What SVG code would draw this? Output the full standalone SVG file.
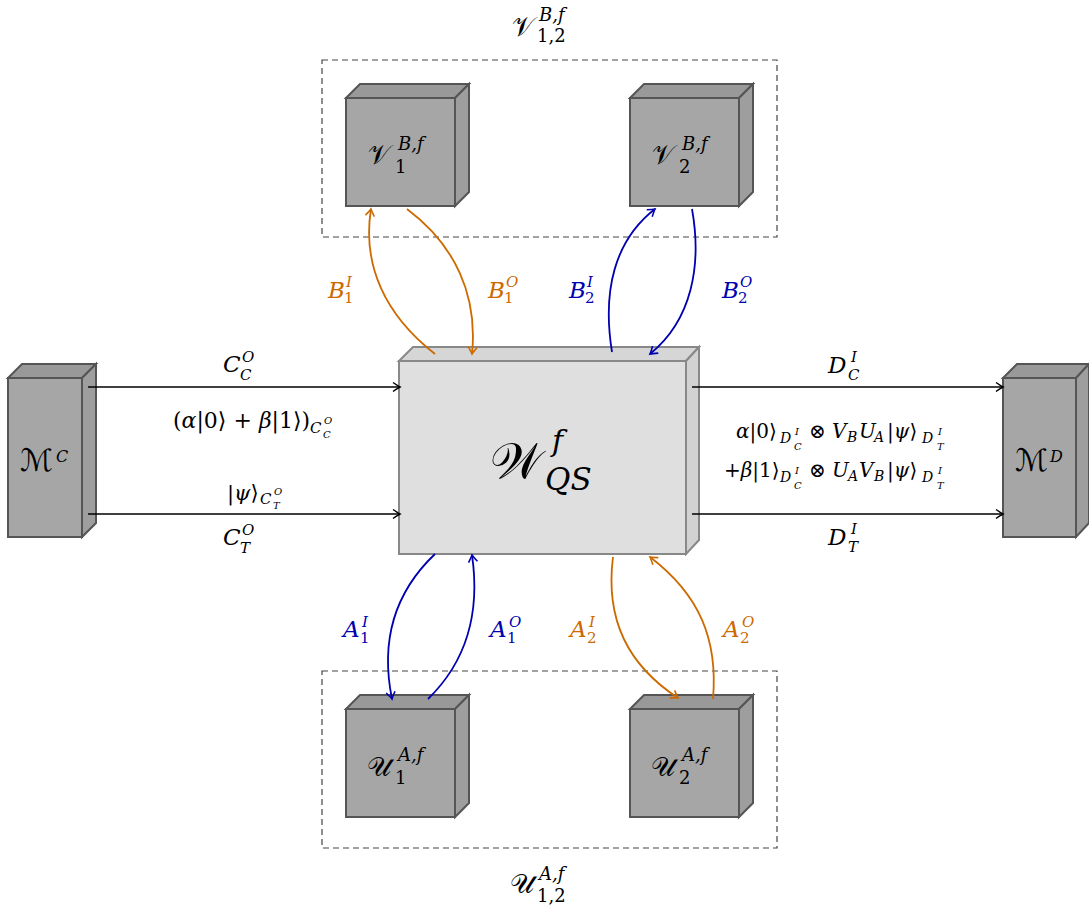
<svg xmlns="http://www.w3.org/2000/svg" width="1089" height="907" viewBox="0 0 1089 907">
<style>
.t{font-family:"DejaVu Serif","Liberation Serif",serif;fill:#000}
.i{font-style:italic}
.cal{font-family:"DejaVu Sans","Noto Sans",serif;fill:#000}
.b{font-size:23px}
.s{font-size:15px}
.xs{font-size:10px}
.m{font-size:14px}
.f{font-size:20px}
.or{fill:#cc6a00}
.bl{fill:#0000b0}
.front{fill:#a6a6a6;stroke:#555;stroke-width:2}
.top{fill:#999;stroke:#555;stroke-width:2}
.side{fill:#9e9e9e;stroke:#555;stroke-width:2}
.wf{fill:#dfdfdf;stroke:#888;stroke-width:2}
.wt{fill:#d6d6d6;stroke:#888;stroke-width:2}
.ws{fill:#d2d2d2;stroke:#888;stroke-width:2}
.dash{fill:none;stroke:#444;stroke-width:1.2;stroke-dasharray:6 4}
.ck{fill:none;stroke:#000;stroke-width:1.6}
.co{fill:none;stroke:#cc6a00;stroke-width:1.8}
.cb{fill:none;stroke:#0000b0;stroke-width:1.8}
.lab{font-size:18px}
</style>
<defs>
<marker id="ak" markerUnits="userSpaceOnUse" markerWidth="12" markerHeight="12" viewBox="-9 -6 12 12" refX="0" refY="0" orient="auto"><path d="M-7,-4.5 Q-2,-1 0,0 Q-2,1 -7,4.5" fill="none" stroke="#000" stroke-width="1.5"/></marker>
<marker id="ao" markerUnits="userSpaceOnUse" markerWidth="12" markerHeight="12" viewBox="-9 -6 12 12" refX="0" refY="0" orient="auto"><path d="M-7,-4.5 Q-2,-1 0,0 Q-2,1 -7,4.5" fill="none" stroke="#cc6a00" stroke-width="1.6"/></marker>
<marker id="ab" markerUnits="userSpaceOnUse" markerWidth="12" markerHeight="12" viewBox="-9 -6 12 12" refX="0" refY="0" orient="auto"><path d="M-7,-4.5 Q-2,-1 0,0 Q-2,1 -7,4.5" fill="none" stroke="#0000b0" stroke-width="1.6"/></marker>
</defs>
<rect width="1089" height="907" fill="#fff"/>

<g id="groupV">
<rect class="dash" x="322" y="60" width="455" height="177"/>
<text class="cal" x="512" y="36" font-size="27">𝒱</text>
<text class="t i lab" x="539" y="21">B,f</text>
<text class="t lab" x="537" y="42">1,2</text>
</g>
<g id="groupU">
<rect class="dash" x="322" y="671" width="455" height="177"/>
<text class="cal" x="510" y="893" font-size="27">𝒰</text>
<text class="t i lab" x="539" y="880">A,f</text>
<text class="t lab" x="537" y="902">1,2</text>
</g>

<g id="V1">
<polygon class="top" points="346,98 360,84 469,84 455,98"/>
<polygon class="side" points="455,98 469,84 469,192 455,206"/>
<rect class="front" x="346" y="98" width="109" height="108"/>
<text class="cal" x="368" y="164" font-size="27">𝒱</text>
<text class="t i lab" x="398" y="150">B,f</text>
<text class="t lab" x="395" y="173">1</text>
</g>
<g id="V2">
<polygon class="top" points="630,98 644,84 753,84 739,98"/>
<polygon class="side" points="739,98 753,84 753,192 739,206"/>
<rect class="front" x="630" y="98" width="109" height="108"/>
<text class="cal" x="652" y="164" font-size="27">𝒱</text>
<text class="t i lab" x="682" y="150">B,f</text>
<text class="t lab" x="679" y="173">2</text>
</g>
<g id="U1">
<polygon class="top" points="346,709 360,695 469,695 455,709"/>
<polygon class="side" points="455,709 469,695 469,803 455,817"/>
<rect class="front" x="346" y="709" width="109" height="108"/>
<text class="cal" x="367" y="776" font-size="27">𝒰</text>
<text class="t i lab" x="398" y="761">A,f</text>
<text class="t lab" x="395" y="784">1</text>
</g>
<g id="U2">
<polygon class="top" points="630,709 644,695 753,695 739,709"/>
<polygon class="side" points="739,709 753,695 753,803 739,817"/>
<rect class="front" x="630" y="709" width="109" height="108"/>
<text class="cal" x="651" y="776" font-size="27">𝒰</text>
<text class="t i lab" x="682" y="761">A,f</text>
<text class="t lab" x="679" y="784">2</text>
</g>
<g id="MC">
<polygon class="top" points="8,378 22,364 96,364 82,378"/>
<polygon class="side" points="82,378 96,364 96,523 82,537"/>
<rect class="front" x="8" y="378" width="74" height="159"/>
<text class="cal" x="20" y="471" font-size="31">ℳ</text>
<text class="t i" x="56" y="462" style="font-size:16px">C</text>
</g>
<g id="MD">
<polygon class="top" points="1003,378 1017,364 1089,364 1076,378"/>
<polygon class="side" points="1076,378 1089,364 1089,523 1076,537"/>
<rect class="front" x="1003" y="378" width="73" height="159"/>
<text class="cal" x="1015" y="471" font-size="31">ℳ</text>
<text class="t i" x="1050" y="462" style="font-size:16px">D</text>
</g>
<g id="W">
<polygon class="wt" points="399,361 413,347 699,347 686,361"/>
<polygon class="ws" points="686,361 699,347 699,540 686,554"/>
<rect class="wf" x="399" y="361" width="287" height="193"/>
<text class="cal" x="490" y="478" font-size="50">𝒲</text>
<text class="t i" x="552" y="451" style="font-size:30px">f</text>
<text class="t i" x="545" y="490" style="font-size:31px">QS</text>
</g>

<g id="connectors">
<line class="ck" x1="88" y1="387" x2="400" y2="387" marker-end="url(#ak)"/>
<line class="ck" x1="88" y1="514" x2="400" y2="514" marker-end="url(#ak)"/>
<line class="ck" x1="692" y1="387" x2="1003" y2="387" marker-end="url(#ak)"/>
<line class="ck" x1="692" y1="514" x2="1003" y2="514" marker-end="url(#ak)"/>
<path class="co" d="M435,354 C385,315 362,265 371,209" marker-end="url(#ao)"/>
<path class="co" d="M407,209 C455,245 478,295 472,354" marker-end="url(#ao)"/>
<path class="cb" d="M612,352 C602,290 615,240 655,209" marker-end="url(#ab)"/>
<path class="cb" d="M692,209 C702,265 692,320 650,354" marker-end="url(#ab)"/>
<path class="cb" d="M435,554 C395,592 380,640 392,699" marker-end="url(#ab)"/>
<path class="cb" d="M428,699 C468,660 480,610 472,555" marker-end="url(#ab)"/>
<path class="co" d="M613,557 C605,620 628,665 678,698" marker-end="url(#ao)"/>
<path class="co" d="M713,699 C718,640 700,595 650,557" marker-end="url(#ao)"/>
</g>

<g id="labels">
<text class="t i b or" x="328" y="298">B</text><text class="t i s or" x="346" y="287">I</text><text class="t s or" x="344" y="303">1</text>
<text class="t i b or" x="488" y="298">B</text><text class="t i s or" x="506" y="287">O</text><text class="t s or" x="504" y="303">1</text>
<text class="t i b bl" x="569" y="298">B</text><text class="t i s bl" x="587" y="287">I</text><text class="t s bl" x="585" y="303">2</text>
<text class="t i b bl" x="722" y="298">B</text><text class="t i s bl" x="740" y="287">O</text><text class="t s bl" x="738" y="303">2</text>

<text class="t i b bl" x="343" y="637">A</text><text class="t i s bl" x="362" y="627">I</text><text class="t s bl" x="360" y="643">1</text>
<text class="t i b bl" x="490" y="637">A</text><text class="t i s bl" x="509" y="627">O</text><text class="t s bl" x="507" y="643">1</text>
<text class="t i b or" x="570" y="637">A</text><text class="t i s or" x="589" y="627">I</text><text class="t s or" x="587" y="643">2</text>
<text class="t i b or" x="723" y="637">A</text><text class="t i s or" x="742" y="627">O</text><text class="t s or" x="740" y="643">2</text>

<text class="t i b" x="223" y="372">C</text><text class="t i s" x="242" y="362">O</text><text class="t i s" x="240" y="380">C</text>
<text class="t" x="173" y="428" style="font-size:22px">(<tspan class="i">α</tspan>|0⟩ + <tspan class="i">β</tspan>|1⟩)</text>
<text class="t i" x="310" y="433" style="font-size:15px">C</text><text class="t i xs" x="324" y="424">O</text><text class="t i xs" x="323" y="438">C</text>
<text class="t" x="227" y="500" style="font-size:21px">|<tspan class="i">ψ</tspan>⟩</text>
<text class="t i" x="260" y="504" style="font-size:15px">C</text><text class="t i xs" x="274" y="495">O</text><text class="t i xs" x="273" y="509">T</text>
<text class="t i b" x="223" y="545">C</text><text class="t i s" x="242" y="535">O</text><text class="t i s" x="240" y="553">T</text>

<text class="t i b" x="828" y="373">D</text><text class="t i s" x="851" y="362">I</text><text class="t i s" x="848" y="380">C</text>
<text class="t i b" x="828" y="545">D</text><text class="t i s" x="851" y="534">I</text><text class="t i s" x="848" y="552">T</text>

<text class="t f" x="736" y="438"><tspan class="i">α</tspan>|0⟩</text>
<text class="t i m" x="780" y="443">D</text><text class="t i xs" x="795" y="435">I</text><text class="t i xs" x="794" y="450">C</text>
<text class="t f" x="809" y="438">⊗</text>
<text class="t i f" x="832" y="438">V</text><text class="t i m" x="847" y="442">B</text>
<text class="t i f" x="859" y="438">U</text><text class="t i m" x="874" y="442">A</text>
<text class="t f" x="887" y="438">|<tspan class="i">ψ</tspan>⟩</text>
<text class="t i m" x="922" y="443">D</text><text class="t i xs" x="938" y="435">I</text><text class="t i xs" x="937" y="450">T</text>

<text class="t f" x="724" y="477">+<tspan class="i">β</tspan>|1⟩</text>
<text class="t i m" x="780" y="482">D</text><text class="t i xs" x="795" y="474">I</text><text class="t i xs" x="794" y="489">C</text>
<text class="t f" x="809" y="477">⊗</text>
<text class="t i f" x="832" y="477">U</text><text class="t i m" x="848" y="481">A</text>
<text class="t i f" x="859" y="477">V</text><text class="t i m" x="874" y="481">B</text>
<text class="t f" x="887" y="477">|<tspan class="i">ψ</tspan>⟩</text>
<text class="t i m" x="922" y="482">D</text><text class="t i xs" x="938" y="474">I</text><text class="t i xs" x="937" y="489">T</text>
</g>
</svg>
